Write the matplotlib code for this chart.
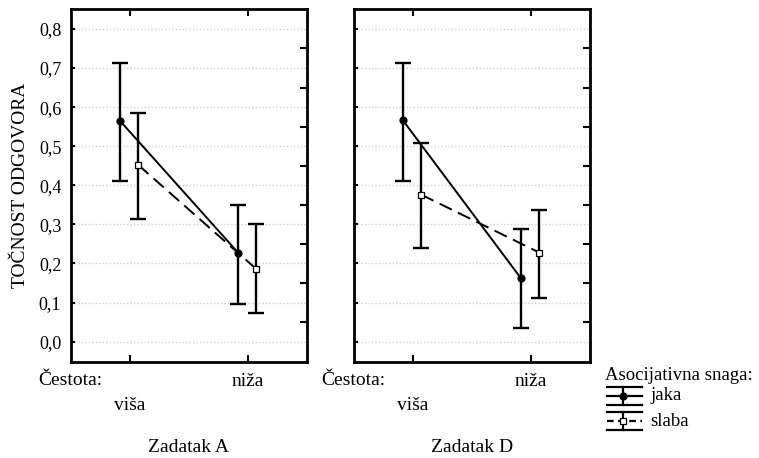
import numpy as np
import matplotlib
matplotlib.use("Agg")
import matplotlib.pyplot as plt
from matplotlib.lines import Line2D
from matplotlib.ticker import FixedLocator, FuncFormatter

plt.rcParams['font.family'] = ['Liberation Serif', 'DejaVu Serif']

# data
categories = ['viša', 'niža']
panels = ['Zadatak A', 'Zadatak D']

a_jaka = [0.565, 0.228]
a_jaka_lo = [0.412, 0.097]
a_jaka_hi = [0.712, 0.350]
a_slaba = [0.452, 0.186]
a_slaba_lo = [0.314, 0.073]
a_slaba_hi = [0.585, 0.300]

d_jaka = [0.566, 0.162]
d_jaka_lo = [0.411, 0.034]
d_jaka_hi = [0.713, 0.288]
d_slaba = [0.376, 0.228]
d_slaba_lo = [0.239, 0.111]
d_slaba_hi = [0.508, 0.337]

W, H = 759, 458
fig = plt.figure(figsize=(W / 100, H / 100), dpi=100)

def px(x, y):
    return x / W, 1 - y / H

ax_a = fig.add_axes([71 / W, 1 - 362 / H, 236 / W, 353 / H])
ax_d = fig.add_axes([354 / W, 1 - 362 / H, 236 / W, 353 / H])

data = {
    ax_a: [(a_jaka, a_jaka_lo, a_jaka_hi), (a_slaba, a_slaba_lo, a_slaba_hi)],
    ax_d: [(d_jaka, d_jaka_lo, d_jaka_hi), (d_slaba, d_slaba_lo, d_slaba_hi)],
}

styles = [
    dict(offset=-0.085, ls='-', marker='o', mfc='black', ms=5),
    dict(offset=0.07, ls=(0, (7, 3.5)), marker='s', mfc='white', ms=5),
]

x = np.arange(len(categories))
fs_tick = 13
fs = 14

for ax, title in zip([ax_a, ax_d], panels):
    for (mean, lo, hi), st in zip(data[ax], styles):
        mean = np.array(mean)
        xs = x + st['offset']
        yerr = [mean - np.array(lo), np.array(hi) - mean]
        ax.errorbar(xs, mean, yerr=yerr, fmt='none', ecolor='black',
                    elinewidth=1.7, capsize=6, capthick=1.7, zorder=3)
        ax.plot(xs, mean, color='black', ls=st['ls'], lw=1.4, zorder=4)
        ax.plot(xs, mean, ls='none', marker=st['marker'], mfc=st['mfc'],
                mec='black', mew=0.9, ms=st['ms'], zorder=5)

    ax.set_xlim(-0.5, 1.5)
    ax.set_ylim(-0.052, 0.851)
    ax.yaxis.set_major_locator(FixedLocator(np.round(np.arange(0, 0.81, 0.1), 2)))
    ax.yaxis.set_minor_locator(FixedLocator(np.round(np.arange(0.05, 0.8, 0.1), 2)))
    ax.yaxis.set_major_formatter(FuncFormatter(lambda v, p: f"{v:.1f}".replace('.', ',')))
    ax.grid(axis='y', which='major', color='#d0d0d0', ls=(0, (1, 1.5)), lw=1)
    ax.set_axisbelow(True)
    ax.tick_params(axis='y', which='major', direction='in', left=True, right=False,
                   length=3, width=1.5, labelsize=fs_tick, pad=7)
    ax.tick_params(axis='y', which='minor', direction='in', left=False, right=True,
                   length=5, width=1.5)
    ax.set_xticks(x)
    ax.set_xticklabels([])
    ax.tick_params(axis='x', direction='in', top=True, bottom=True, length=5, width=1.5)
    for s in ax.spines.values():
        s.set_linewidth(2)

    tr = ax.get_xaxis_transform()
    ax.text(-0.137, -0.053, 'Čestota:', transform=ax.transAxes, ha='left',
            va='center', fontsize=fs)
    ax.text(x[1], -0.055, categories[1], transform=tr, ha='center', va='center', fontsize=fs)
    ax.text(x[0], -0.122, categories[0], transform=tr, ha='center', va='center', fontsize=fs)
    ax.text(0.5, -0.243, title, transform=ax.transAxes, ha='center', va='center', fontsize=fs)

ax_d.tick_params(axis='y', labelleft=False)
ax_a.set_ylabel('TOČNOST ODGOVORA', fontsize=fs, labelpad=7)

# legend drawn by hand
fig.text(*px(605, 375), 'Asocijativna snaga:', ha='left', va='center', fontsize=13.5)
entries = [('jaka', 396, '-', 'o', 'black'), ('slaba', 421, (0, (3, 2)), 's', 'white')]
for label, yc, ls, mk, mfc in entries:
    x0, x1, xm = 607, 642, 623
    for yy, lstyle in [(yc - 9, '-'), (yc, ls), (yc + 9, '-')]:
        (ax0, ay), (ax1, _) = px(x0, yy), px(x1, yy)
        fig.add_artist(Line2D([ax0, ax1], [ay, ay], color='black', lw=1.6, ls=lstyle))
    (mx, my0), (_, my1) = px(xm, yc - 9), px(xm, yc + 9)
    fig.add_artist(Line2D([mx, mx], [my0, my1], color='black', lw=1.6))
    cx, cy = px(xm, yc)
    fig.add_artist(Line2D([cx], [cy], marker=mk, mfc=mfc, mec='black', mew=0.9, ms=5))
    fig.text(*px(650, yc), label, ha='left', va='center', fontsize=13.5)

fig.savefig('out.png', dpi=100)
